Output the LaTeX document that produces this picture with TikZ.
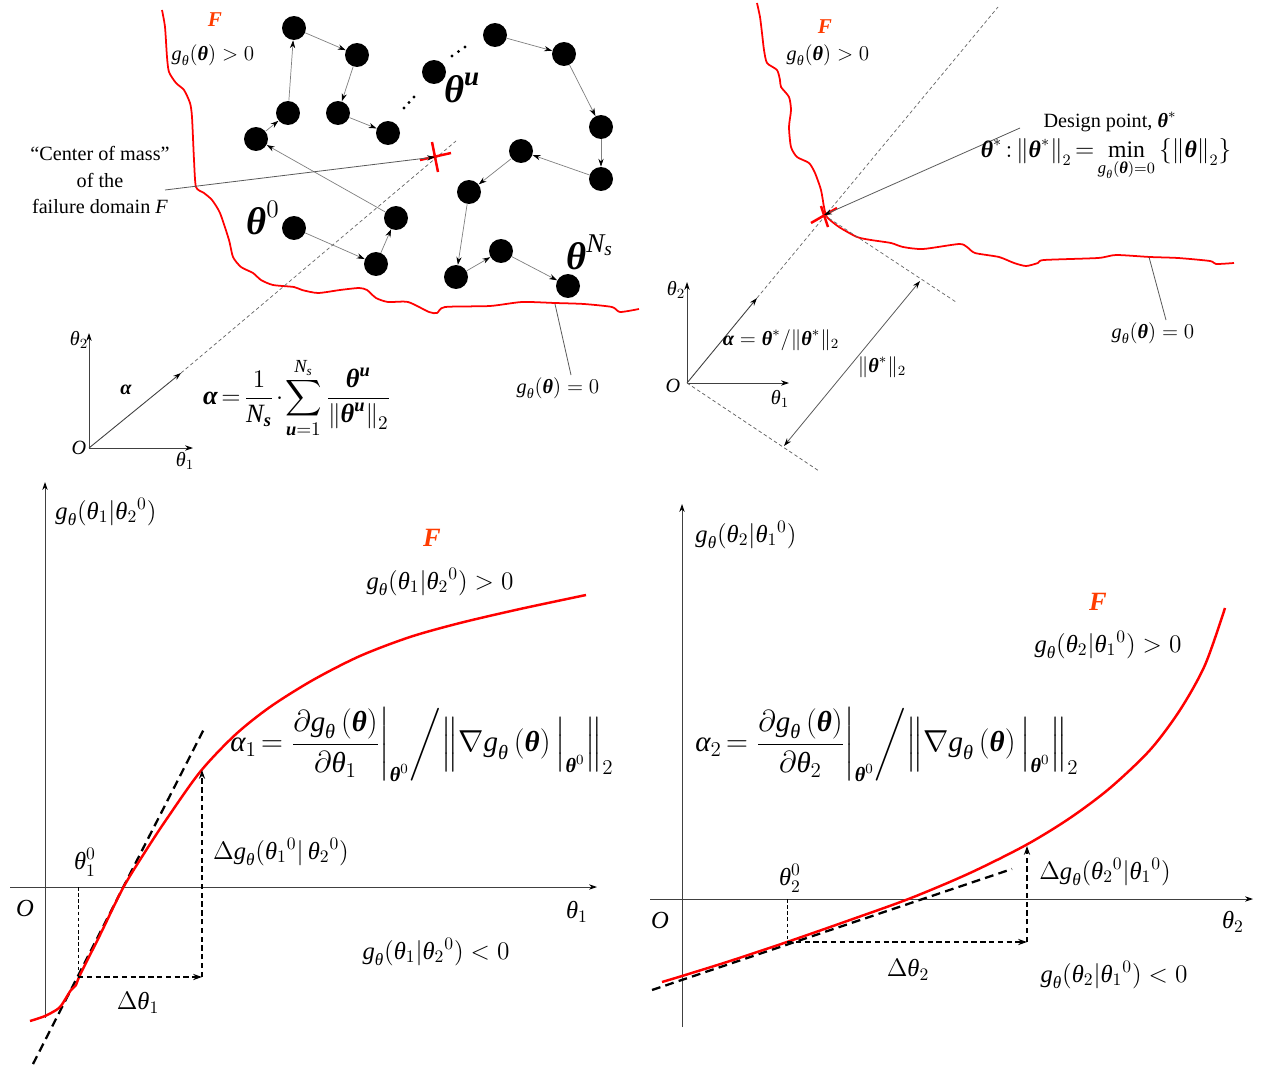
\documentclass[tikz,border=0pt]{standalone}
\usepackage{amsmath}
\usepackage{fontspec}
\setmainfont{Liberation Serif}
\usetikzlibrary{arrows.meta}
\definecolor{Forange}{RGB}{255,60,0}
\newcommand{\ith}{\text{\normalfont\itshape θ}}
\newcommand{\bth}{\text{\normalfont\bfseries\itshape θ}}
\newcommand{\bal}{\text{\normalfont\bfseries\itshape α}}
\newcommand{\ial}{\text{\normalfont\itshape α}}
\newcommand{\ig}{\text{\normalfont\itshape g}}
\newcommand{\iN}{\text{\normalfont\itshape N}}
\newcommand{\is}{\text{\normalfont\itshape s}}
\newcommand{\bs}{\text{\normalfont\bfseries\itshape s}}
\newcommand{\bu}{\text{\normalfont\bfseries\itshape u}}
\newcommand{\iO}{\text{\normalfont\itshape O}}
\newcommand{\tightmath}{\thickmuskip=2.5mu\medmuskip=1.5mu}
\begin{document}
\begin{tikzpicture}[x=0.02cm,y=-0.02cm,
  lbl/.style={inner sep=0pt,font=\fontsize{11.5}{15}\selectfont},
  blbl/.style={inner sep=0pt,font=\fontsize{14}{16}\selectfont},
  bigt/.style={inner sep=0pt,font=\fontsize{22}{26}\selectfont},
  fml/.style={inner sep=0pt,font=\fontsize{15}{18}\selectfont\tightmath},
  rfml/.style={inner sep=0pt,font=\fontsize{13.5}{16}\selectfont\tightmath},
  bfml/.style={inner sep=0pt,font=\fontsize{16.5}{20}\selectfont\tightmath},
  redF/.style={inner sep=0pt,text=Forange,font=\fontsize{12}{14}\selectfont\bfseries\itshape},
  bredF/.style={inner sep=0pt,text=Forange,font=\fontsize{15}{17}\selectfont\bfseries\itshape},
  sdot/.style={circle,fill=black,inner sep=0pt,minimum size=0.48cm},
  tip/.style={-{Stealth[length=4.5pt,width=3pt,color=black]}},
  edge/.style={draw=gray,line width=0.4pt,tip},
  axis/.style={draw=black!75,line width=0.5pt,tip},
  dotl/.style={draw=black!60,line width=0.4pt,dash pattern=on 2pt off 1.5pt},
  lead/.style={draw=black!65,line width=0.45pt},
  redc/.style={draw=red,line width=1pt,line join=round},
  bredc/.style={draw=red,line width=1.4pt,line join=round},
  crossln/.style={draw=red,line width=1.4pt},
  tang/.style={draw=black,line width=1.3pt,dash pattern=on 5pt off 3pt},
  thind/.style={draw=black,line width=0.5pt,dash pattern=on 2pt off 1.5pt},
  darr/.style={draw=black,line width=0.9pt,dash pattern=on 3pt off 2pt,-{Stealth[length=5pt,width=3.5pt]}},
]
\useasboundingbox (0,0) rectangle (1262,1068);
\fill[white] (0,0) rectangle (1262,1068);

% ================= TOP LEFT =================
\draw[redc] plot[smooth,tension=0.4] coordinates {(162,10) (165,27) (167,57) (169,72) (176,83) (184,90) (190,103) (192,117) (194,160) (196,187) (204,193) (212,200) (220,213) (229,240) (233,257) (241,267) (253,273) (261,280) (273,285) (294,287) (302,290) (318,293) (340,290) (359,288) (367,290) (376,298) (388,302) (408,302) (429,312) (437,313) (445,307) (490,306) (522,302) (555,303) (584,304) (612,307) (620,312) (639,309)};

\node[redF] (F1) at (215,20) {F};
\node[lbl] (gpos1) at (213,55) {$\ig_{\ith}(\bth) > 0$};

% chain nodes
\node[sdot] (n1) at (294,28) {};
\node[sdot] (n2) at (357,55) {};
\node[sdot] (n3) at (338,113) {};
\node[sdot] (n4) at (388,133) {};
\node[sdot] (n5) at (288,113) {};
\node[sdot] (n6) at (256,139) {};
\node[sdot] (n7) at (434,72) {};
\node[sdot] (n8) at (495,35) {};
\node[sdot] (n9) at (564,54) {};
\node[sdot] (n10) at (601,127) {};
\node[sdot] (n11) at (601,179) {};
\node[sdot] (n12) at (521,151) {};
\node[sdot] (n13) at (469,192) {};
\node[sdot] (n14) at (396,218) {};
\node[sdot] (n15) at (294,228) {};
\node[sdot] (n16) at (376,264) {};
\node[sdot] (n17) at (456,277) {};
\node[sdot] (n18) at (501,251) {};
\node[sdot] (n19) at (568,286) {};

\draw[edge] (n5) -- (n1);
\draw[edge] (n1) -- (n2);
\draw[edge] (n2) -- (n3);
\draw[edge] (n3) -- (n4);
\draw[edge] (n6) -- (n5);
\draw[edge] (n14) -- (n6);
\draw[edge] (n15) -- (n16);
\draw[edge] (n16) -- (n14);
\draw[edge] (n8) -- (n9);
\draw[edge] (n9) -- (n10);
\draw[edge] (n10) -- (n11);
\draw[edge] (n11) -- (n12);
\draw[edge] (n12) -- (n13);
\draw[edge] (n13) -- (n17);
\draw[edge] (n17) -- (n18);
\draw[edge] (n18) -- (n19);

% ellipsis dots
\foreach \p in {(404,108),(409,102.5),(414,97),(452,56),(458.5,51.5),(465,47)}
  \fill[black] \p circle (1.6);

\node[bigt] (thu) at (462,88) {$\bth^{\bu}$};
\node[bigt] (th0) at (263,218) {$\bth^{0}$};
\node[bigt] (thN) at (590,252) {$\bth^{\iN_{\is}}$};

% axes
\coordinate (O1) at (89,448);
\coordinate (Y1) at (89,333);
\coordinate (X1) at (193,448);
\coordinate (A1) at (181,373);
\coordinate (A1e) at (456,141);
\draw[axis] (O1) -- (Y1);
\draw[axis] (O1) -- (X1);
\draw[axis] (O1) -- (A1);
\draw[dotl] (A1) -- (A1e);
\node[lbl] (O1l) at (79,448) {$\iO$};
\node[lbl] (Y1l) at (79,340) {$\ith_2$};
\node[lbl] (X1l) at (185,461) {$\ith_1$};
\node[lbl] (a1l) at (126,390) {$\bal$};

% center of mass cross
\coordinate (cm) at (435,157);
\draw[crossln] (cm) ++(-15,3) -- ++(31,-7);
\draw[crossln] (cm) ++(-3,-15) -- ++(6,30);
\node[lbl,align=center] (cml) at (100,180) {“Center of mass”\\of the\\failure domain \textit{F}};
\coordinate (cmL) at (165,190);
\draw[lead,tip] (cmL) -- (cm);

\node[fml] (f1) at (297,398) {$\displaystyle \bal = \frac{1}{\iN_{\bs}}\cdot\sum_{\bu=1}^{\iN_{\is}}\frac{\bth^{\bu}}{\left\|\bth^{\bu}\right\|_2}$};

\node[lbl] (gz1) at (558,388) {$\ig_{\ith}(\bth) = 0$};
\coordinate (gz1a) at (555,304);
\coordinate (gz1b) at (571,375);
\draw[lead] (gz1a) -- (gz1b);

% ================= TOP RIGHT =================
\draw[redc] plot[smooth,tension=0.4] coordinates {(757,3) (760,17) (762,33) (764,50) (767,63) (777,70) (780,80) (781,87) (789,97) (791,110) (789,127) (791,147) (797,157) (809,163) (815,173) (821,190) (824,207) (827,217) (839,227) (857,237) (871,240) (891,243) (903,247) (923,249) (959,244) (967,247) (975,253) (999,257) (1014,263) (1026,266) (1038,263) (1044,260) (1098,258) (1116,255) (1150,257) (1178,258) (1210,261) (1216,264) (1234,263)};

\node[redF] (F2) at (825,27) {F};
\node[lbl] (gpos2) at (828,55) {$\ig_{\ith}(\bth) > 0$};

\coordinate (O2) at (687,383);
\coordinate (Y2) at (687,282);
\coordinate (X2) at (789,383);
\coordinate (A2) at (757,298);
\coordinate (A2e) at (998,7);
\draw[axis] (O2) -- (Y2);
\draw[axis] (O2) -- (X2);
\draw[axis] (O2) -- (A2);
\draw[dotl] (A2) -- (A2e);
\node[lbl] (O2l) at (673,386) {$\iO$};
\node[lbl] (Y2l) at (676,290) {$\ith_2$};
\node[lbl] (X2l) at (780,399) {$\ith_1$};
\node[lbl] (a2l) at (781,340) {$\bal = \bth^{*}/\|\bth^{*}\|_2$};

\coordinate (dp) at (824,215);
\coordinate (P1e) at (956,302);
\coordinate (P2e) at (819,471);
\draw[dotl] (dp) -- (P1e);
\draw[dotl] (O2) -- (P2e);
\coordinate (D1) at (784,446);
\coordinate (D2) at (920,281);
\draw[lead,{Stealth[length=4.5pt,width=3pt,color=black]}-{Stealth[length=4.5pt,width=3pt,color=black]}] (D1) -- (D2);
\node[lbl] (dnl) at (882,367) {$\|\bth^{*}\|_2$};

\draw[crossln] (dp) ++(-13,8) -- ++(26,-15);
\draw[crossln] (dp) ++(-3,-9) -- ++(7,21);

\node[lbl] (dpl) at (1110,122) {Design point, $\bth^{*}$};
\coordinate (dpL) at (1020,128);
\draw[lead,tip] (dpL) -- (dp);
\node[rfml] (f2) at (1106,160) {$\bth^{*}:\left\|\bth^{*}\right\|_2 = \min\limits_{\ig_{\ith}(\bth)=0}\left\{\left\|\bth\right\|_2\right\}$};

\node[lbl] (gz2) at (1153,333) {$\ig_{\ith}(\bth) = 0$};
\coordinate (gz2a) at (1149,257);
\coordinate (gz2b) at (1166,320);
\draw[lead] (gz2a) -- (gz2b);

% ================= BOTTOM LEFT =================
\coordinate (BLv0) at (45,1018);
\coordinate (BLv1) at (45,482);
\coordinate (BLh0) at (10,887);
\coordinate (BLh1) at (597,887);
\draw[axis] (BLv0) -- (BLv1);
\draw[axis] (BLh0) -- (BLh1);

\coordinate (T1a) at (33,1064);
\coordinate (T1b) at (204,729);
\draw[tang] (T1a) -- (T1b);
\draw[bredc] plot[smooth,tension=0.5] coordinates {(30,1021) (45,1016) (59,1008) (66,998) (71,990) (76,985) (80,975) (100,935) (123,888) (145,852) (166,820) (200,772) (235,735) (270,707) (313,680) (360,656) (410,637) (460,623) (520,609) (586,595)};

\coordinate (t10) at (78,887);
\coordinate (t1p) at (78,977);
\coordinate (t1c) at (202,977);
\coordinate (t1t) at (202,770);
\draw[thind] (t10) -- (t1p);
\draw[darr] (t1p) -- (t1c);
\draw[darr] (t1c) -- (t1t);

\node[blbl] (BLO) at (25,908) {$\iO$};
\node[blbl] (BLx) at (577,912) {$\ith_1$};
\node[blbl] (BLy) at (106,512) {$\ig_{\ith}(\ith_1|\ith_2{}^0)$};
\node[bredF] (F3) at (432,538) {F};
\node[blbl] (BLpos) at (440,582) {$\ig_{\ith}(\ith_1|\ith_2{}^0) > 0$};
\node[blbl] (BLneg) at (436,952) {$\ig_{\ith}(\ith_1|\ith_2{}^0) < 0$};
\node[blbl] (BLt0) at (85,862) {$\ith_1^0$};
\node[blbl] (BLdg) at (281,852) {$\Delta \ig_{\ith}(\ith_1{}^0|\,\ith_2{}^0)$};
\node[blbl] (BLdt) at (138,1003) {$\Delta\ith_1$};
\node[bfml] (f3) at (423,745) {$\ial_1 = \left.\left.\dfrac{\partial \ig_{\ith}\left(\bth\right)}{\partial \ith_1}\right|_{\bth^0}\middle/\left\|\nabla \ig_{\ith}\left(\bth\right)\Big|_{\bth^0}\right\|_2\right.$};

% ================= BOTTOM RIGHT =================
\coordinate (BRv0) at (682,1027);
\coordinate (BRv1) at (682,504);
\coordinate (BRh0) at (650,899);
\coordinate (BRh1) at (1253,899);
\draw[axis] (BRv0) -- (BRv1);
\draw[axis] (BRh0) -- (BRh1);

\coordinate (T2a) at (652,990);
\coordinate (T2b) at (1012,869);
\draw[tang] (T2a) -- (T2b);
\draw[bredc] plot[smooth,tension=0.5] coordinates {(662,982) (682,976) (730,961) (787,942) (850,920) (911,898) (970,873) (1026,845) (1070,818) (1110,788) (1150,750) (1180,710) (1205,665) (1225,608)};

\coordinate (t20) at (787,899);
\coordinate (t2p) at (787,942);
\coordinate (t2c) at (1027,942);
\coordinate (t2t) at (1027,846);
\draw[thind] (t20) -- (t2p);
\draw[darr] (t2p) -- (t2c);
\draw[darr] (t2c) -- (t2t);

\node[blbl] (BRO) at (660,920) {$\iO$};
\node[blbl] (BRx) at (1233,922) {$\ith_2$};
\node[blbl] (BRy) at (746,535) {$\ig_{\ith}(\ith_2|\ith_1{}^0)$};
\node[bredF] (F4) at (1098,602) {F};
\node[blbl] (BRpos) at (1108,645) {$\ig_{\ith}(\ith_2|\ith_1{}^0) > 0$};
\node[blbl] (BRneg) at (1114,975) {$\ig_{\ith}(\ith_2|\ith_1{}^0) < 0$};
\node[blbl] (BRt0) at (790,878) {$\ith_2^0$};
\node[blbl] (BRdg) at (1105,872) {$\Delta \ig_{\ith}(\ith_2{}^0|\ith_1{}^0)$};
\node[blbl] (BRdt) at (908,970) {$\Delta\ith_2$};
\node[bfml] (f4) at (888,745) {$\ial_2 = \left.\left.\dfrac{\partial \ig_{\ith}\left(\bth\right)}{\partial \ith_2}\right|_{\bth^0}\middle/\left\|\nabla \ig_{\ith}\left(\bth\right)\Big|_{\bth^0}\right\|_2\right.$};
\end{tikzpicture}
\end{document}
